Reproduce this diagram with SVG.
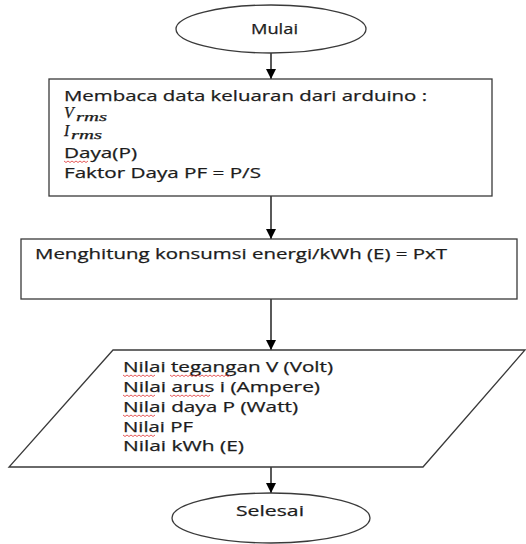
<svg xmlns="http://www.w3.org/2000/svg" width="526" height="544" viewBox="0 0 526 544">
<defs>
<marker id="arr" markerUnits="userSpaceOnUse" markerWidth="12" markerHeight="10" refX="10" refY="5" orient="auto">
<path d="M0,0 L10,5 L0,10 Z" fill="#000"/>
</marker>
<style>
.shape{fill:#fff;stroke:#3a3a3a;stroke-width:1.3}
.t{font-family:"Open Sans","Liberation Sans",sans-serif;font-size:15px;fill:#1c1c1c;stroke:#1c1c1c;stroke-width:0.25}
.m{font-family:"Liberation Serif","DejaVu Serif",serif;font-style:italic;fill:#1c1c1c;stroke:#1c1c1c;stroke-width:0.25}
.edge{stroke:#000;stroke-width:1.3;fill:none;marker-end:url(#arr)}
.sq{stroke:#e03030;stroke-width:0.8;fill:none}
</style>
</defs>
<rect width="526" height="544" fill="#fff"/>
<g id="connectors">
<line class="edge" x1="271" y1="53" x2="271" y2="79"/>
<line class="edge" x1="271" y1="196" x2="271" y2="239"/>
<line class="edge" x1="271" y1="299" x2="271" y2="350"/>
<line class="edge" x1="271" y1="467" x2="271" y2="493"/>
</g>
<g id="mulai">
<ellipse class="shape" cx="271" cy="29" rx="95" ry="24"/>
<text class="t" x="251" y="34" textLength="47" lengthAdjust="spacingAndGlyphs">Mulai</text>
</g>
<g id="membaca">
<rect class="shape" x="49" y="79" width="443" height="117"/>
<text class="t" x="64" y="101" textLength="363" lengthAdjust="spacingAndGlyphs">Membaca data keluaran dari arduino :</text>
<text class="m" x="64" y="118" font-size="16">V</text>
<text class="m" x="76" y="121" font-size="12" textLength="31" lengthAdjust="spacingAndGlyphs">rms</text>
<text class="m" x="64" y="136" font-size="16">I</text>
<text class="m" x="71" y="139" font-size="12" textLength="31" lengthAdjust="spacingAndGlyphs">rms</text>
<text class="t" x="64" y="158" textLength="73" lengthAdjust="spacingAndGlyphs">Daya(P)</text>
<path class="sq" d="M64,161 l2,1.5 l2,-1.5 l2,1.5 l2,-1.5 l2,1.5 l2,-1.5 l2,1.5 l2,-1.5 l2,1.5 l2,-1.5 l2,1.5 l2,-1.5"/>
<text class="t" x="64" y="178" textLength="197" lengthAdjust="spacingAndGlyphs">Faktor Daya PF = P/S</text>
</g>
<g id="menghitung">
<rect class="shape" x="21" y="239" width="496" height="60"/>
<text class="t" x="35" y="259" textLength="412" lengthAdjust="spacingAndGlyphs">Menghitung konsumsi energi/kWh (E) = PxT</text>
</g>
<g id="output">
<polygon class="shape" points="113,350 525,350 423,467 9,467"/>
<text class="t" x="123" y="372" textLength="210" lengthAdjust="spacingAndGlyphs">Nilai tegangan V (Volt)</text>
<text class="t" x="123" y="392" textLength="197" lengthAdjust="spacingAndGlyphs">Nilai arus i (Ampere)</text>
<text class="t" x="123" y="412" textLength="175" lengthAdjust="spacingAndGlyphs">Nilai daya P (Watt)</text>
<text class="t" x="123" y="432" textLength="70" lengthAdjust="spacingAndGlyphs">Nilai PF</text>
<text class="t" x="123" y="451" textLength="121" lengthAdjust="spacingAndGlyphs">Nilai kWh (E)</text>
<path class="sq" d="M123,375 l2,1.5 l2,-1.5 l2,1.5 l2,-1.5 l2,1.5 l2,-1.5 l2,1.5 l2,-1.5 l2,1.5 l2,-1.5 l2,1.5 l2,-1.5 l2,1.5 l2,-1.5 l2,1.5 l2,-1.5"/>
<path class="sq" d="M170,375 l2,1.5 l2,-1.5 l2,1.5 l2,-1.5 l2,1.5 l2,-1.5 l2,1.5 l2,-1.5 l2,1.5 l2,-1.5 l2,1.5 l2,-1.5 l2,1.5 l2,-1.5 l2,1.5 l2,-1.5 l2,1.5 l2,-1.5 l2,1.5 l2,-1.5 l2,1.5 l2,-1.5 l2,1.5 l2,-1.5 l2,1.5 l2,-1.5 l2,1.5 l2,-1.5 l2,1.5 l2,-1.5"/>
<path class="sq" d="M123,395 l2,1.5 l2,-1.5 l2,1.5 l2,-1.5 l2,1.5 l2,-1.5 l2,1.5 l2,-1.5 l2,1.5 l2,-1.5 l2,1.5 l2,-1.5 l2,1.5 l2,-1.5 l2,1.5 l2,-1.5"/>
<path class="sq" d="M170,395 l2,1.5 l2,-1.5 l2,1.5 l2,-1.5 l2,1.5 l2,-1.5 l2,1.5 l2,-1.5 l2,1.5 l2,-1.5 l2,1.5 l2,-1.5 l2,1.5 l2,-1.5 l2,1.5 l2,-1.5 l2,1.5 l2,-1.5 l2,1.5 l2,-1.5"/>
<path class="sq" d="M123,415 l2,1.5 l2,-1.5 l2,1.5 l2,-1.5 l2,1.5 l2,-1.5 l2,1.5 l2,-1.5 l2,1.5 l2,-1.5 l2,1.5 l2,-1.5 l2,1.5 l2,-1.5 l2,1.5 l2,-1.5"/>
<path class="sq" d="M123,435 l2,1.5 l2,-1.5 l2,1.5 l2,-1.5 l2,1.5 l2,-1.5 l2,1.5 l2,-1.5 l2,1.5 l2,-1.5 l2,1.5 l2,-1.5 l2,1.5 l2,-1.5 l2,1.5 l2,-1.5"/>
</g>
<g id="selesai">
<ellipse class="shape" cx="271" cy="518" rx="99" ry="25"/>
<text class="t" x="236" y="516" textLength="68" lengthAdjust="spacingAndGlyphs">Selesai</text>
</g>
</svg>
